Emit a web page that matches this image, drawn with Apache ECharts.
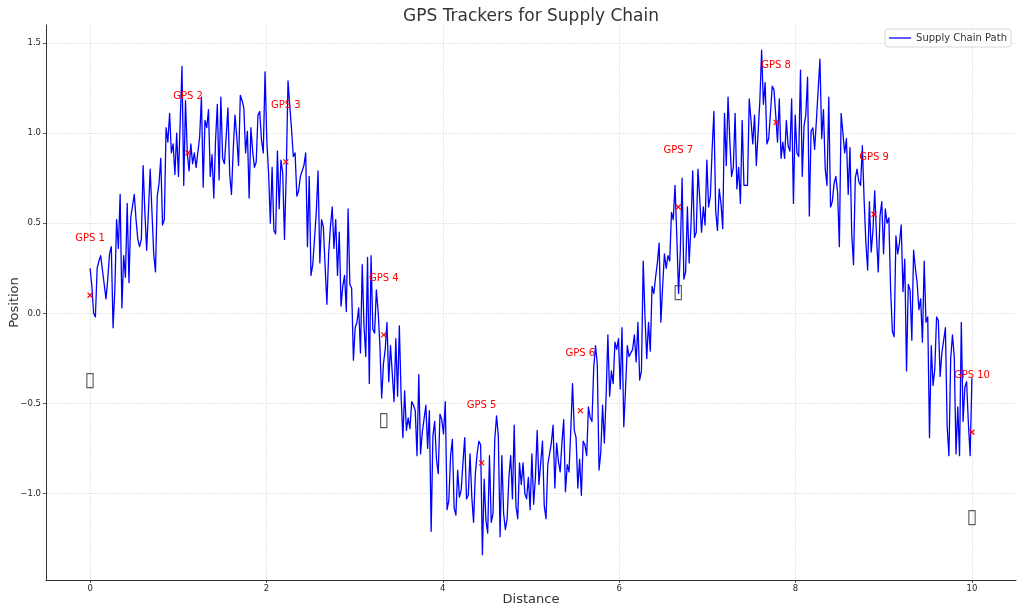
<!DOCTYPE html>
<html>
<head>
<meta charset="utf-8">
<title>GPS Trackers for Supply Chain</title>
<style>
  html, body { margin: 0; padding: 0; background: #fff; }
  #chart { width: 1024px; height: 614px; }
</style>
<script src="https://cdn.jsdelivr.net/npm/echarts@6/dist/echarts.min.js"></script>
</head>
<body>
<div id="chart"></div>
<script>
// path readings, 500 samples evenly spaced from distance 0 to 10
const pathY = [
  0.25,0.15,0.00,-0.02,0.25,0.29,0.32,0.33,0.16,0.08,
  0.19,0.33,0.37,-0.08,0.13,0.52,0.36,0.66,0.03,0.32,
  0.20,0.61,0.17,0.53,0.52,0.66,0.52,0.41,0.37,0.41,
  0.82,0.56,0.35,0.56,0.80,0.79,0.33,0.23,0.65,0.72,
  0.86,0.49,0.52,1.03,0.95,1.11,0.89,0.94,0.77,1.00,
  0.76,0.77,1.37,0.71,1.18,0.89,0.79,0.94,0.83,0.89,
  0.81,0.81,0.98,1.20,0.70,1.07,1.03,1.13,0.76,0.88,
  0.64,0.96,1.16,0.74,1.20,0.86,0.83,0.98,1.14,0.77,
  0.66,0.91,1.10,0.98,0.82,1.21,1.18,1.14,0.89,1.01,
  0.64,1.03,0.90,0.81,0.84,1.10,1.12,0.96,0.89,1.34,
  0.96,0.78,0.50,0.81,0.46,0.44,0.90,0.58,0.85,0.78,
  0.41,0.78,1.29,
  1.15,1.02,0.87,0.89,0.65,0.68,0.76,0.76,0.82,0.89,
  0.37,0.76,0.21,0.27,0.27,0.56,0.79,0.28,0.52,0.48,
  0.26,0.05,0.33,0.48,0.59,0.36,0.52,0.21,0.45,0.04,
  0.15,0.21,0.01,0.58,0.16,0.14,-0.26,-0.08,-0.05,0.03,
  -0.22,0.27,-0.07,-0.24,0.31,-0.39,0.32,-0.09,-0.11,0.13,
  0.01,-0.18,-0.47,-0.28,-0.20,-0.05,-0.38,-0.18,-0.19,-0.49,
  -0.14,-0.46,-0.07,-0.46,-0.69,-0.43,-0.65,-0.58,-0.64,-0.49,
  -0.51,-0.54,-0.79,-0.34,-0.78,-0.66,-0.65,-0.51,-0.75,-0.54,
  -1.21,-0.68,-0.60,-0.81,-0.89,-0.56,-0.59,-0.67,-0.49,-1.09,
  -1.04,-0.79,-0.70,-1.08,-1.12,-0.87,-1.02,
  -0.98,-0.83,-0.69,-1.03,-1.01,-0.78,-1.02,-1.16,-0.89,-0.78,
  -0.71,-0.73,-1.34,-0.92,-1.15,-1.22,-0.79,-1.16,-1.11,-0.70,
  -0.57,-0.68,-1.24,-0.79,-1.11,-1.20,-1.14,-0.91,-0.79,-1.03,
  -0.62,-1.07,-1.14,-0.83,-0.95,-0.83,-1.00,-1.03,-0.91,-1.09,
  -0.78,-1.06,-0.91,-0.65,-0.95,-0.83,-0.71,-1.07,-1.14,-0.84,
  -0.85,-0.72,-0.62,-0.97,-0.72,-0.82,-0.88,-0.72,-0.59,-0.99,
  -0.84,-0.88,-0.65,-0.39,-0.65,-0.69,-0.97,-0.81,-1.01,-0.71,
  -0.73,-0.79,-0.52,-0.58,-0.60,-0.30,-0.18,-0.28,-0.87,-0.77,
  -0.51,-0.72,-0.46,-0.12,-0.46,-0.32,-0.39,-0.16,-0.20,-0.14,
  -0.42,-0.08,-0.63,-0.42,-0.18,-0.24,
  -0.25,-0.20,-0.12,-0.27,-0.05,-0.37,-0.32,0.29,-0.02,-0.25,
  -0.05,-0.21,0.15,0.11,0.20,0.28,0.39,-0.05,0.15,0.33,
  0.25,0.32,0.29,0.56,0.52,0.71,0.43,0.11,0.35,0.75,
  0.19,0.23,0.59,0.28,0.48,0.79,0.42,0.45,0.80,0.63,
  0.45,0.59,0.49,0.85,0.59,0.65,0.91,1.12,0.57,0.46,
  0.69,0.61,0.47,1.11,0.82,1.20,0.96,0.76,0.81,1.11,
  0.69,0.81,0.61,1.07,0.71,0.72,0.71,1.19,1.07,0.94,
  1.10,
  0.82,1.00,1.18,1.46,1.16,1.28,0.94,0.97,1.11,1.26,
  1.24,1.10,0.95,1.19,0.86,0.95,0.86,1.07,0.93,0.90,
  1.19,0.61,1.10,0.89,0.87,1.35,0.76,1.04,1.10,1.31,
  0.54,1.01,1.03,0.91,1.07,1.24,1.41,0.97,1.13,0.80,
  0.71,1.20,0.59,0.62,0.72,0.76,0.67,0.37,1.11,1.10,
  0.89,0.97,0.66,0.92,0.44,0.27,0.75,0.80,0.73,0.71,
  0.93,0.63,0.39,0.24,0.62,
  0.34,0.46,0.68,0.43,0.23,0.54,0.62,0.33,0.58,0.50,
  0.53,0.13,-0.10,-0.13,0.43,0.33,0.39,0.49,0.12,0.30,
  -0.32,0.16,0.13,-0.15,0.35,0.25,0.17,0.02,0.08,-0.16,
  0.29,-0.05,-0.02,-0.69,-0.18,-0.40,-0.31,-0.02,-0.04,-0.35,
  -0.22,-0.15,-0.08,-0.63,-0.79,-0.25,-0.12,-0.24,-0.78,-0.52,
  -0.79,-0.05,-0.60,-0.41,-0.38,-0.61,-0.79,-0.36
]

const trackerNames = ['GPS 1', 'GPS 2', 'GPS 3', 'GPS 4', 'GPS 5', 'GPS 6', 'GPS 7', 'GPS 8', 'GPS 9', 'GPS 10']
const trackerX = [0, 1.11, 2.22, 3.33, 4.44, 5.56, 6.67, 7.78, 8.89, 10]
const trackerY = [0.10, 0.89, 0.84, -0.12, -0.83, -0.54, 0.59, 1.06, 0.55, -0.66]

// the boxes are glyphs the source font could not draw
const flagX = [0, 3.33, 6.67, 10]
const flagY = [-0.37, -0.59, 0.12, -1.13]

const xTicks = [0, 2, 4, 6, 8, 10]
const yTicks = [-1, -0.5, 0, 0.5, 1, 1.5]

const fontName = '"DejaVu Sans", sans-serif'
const textColor = '#333333'
const gridStyle = { color: '#e0e0e0', width: 0.8, type: [2, 1] }

const pathPoints = pathY.map((y, i) => [i * 10 / (pathY.length - 1), y])

const myChart = echarts.init(document.getElementById('chart'), null, { renderer: 'canvas' })
myChart.setOption({
  animation: false,
  backgroundColor: '#ffffff',
  textStyle: { fontFamily: fontName },
  title: {
    text: 'GPS Trackers for Supply Chain',
    left: 526,
    top: 3,
    textAlign: 'center',
    textStyle: { fontFamily: fontName, fontSize: 17, fontWeight: 'normal', color: textColor }
  },
  legend: {
    data: ['Supply Chain Path'],
    icon: 'rect',
    right: 13,
    top: 29,
    padding: [4, 4, 4, 4],
    itemWidth: 22,
    itemHeight: 2,
    borderColor: '#d8d8d8',
    borderWidth: 1,
    borderRadius: 3,
    backgroundColor: 'rgba(255,255,255,0.8)',
    textStyle: { fontFamily: fontName, fontSize: 10, color: textColor }
  },
  grid: { left: 46, right: 8, top: 25, bottom: 34, outerBoundsMode: 'none' },
  xAxis: {
    type: 'value',
    min: -0.5,
    max: 10.5,
    name: 'Distance',
    nameLocation: 'middle',
    nameGap: 13.5,
    nameMoveOverlap: false,
    nameTextStyle: { fontSize: 13, color: textColor, fontFamily: fontName },
    axisLine: { onZero: false, lineStyle: { color: '#333333', width: 1 } },
    axisTick: { customValues: xTicks, length: 3, lineStyle: { color: '#333333', width: 0.8 } },
    axisLabel: {
      customValues: xTicks,
      fontSize: 8.5,
      color: '#262626',
      margin: 4,
      formatter: v => String(v)
    },
    splitLine: { show: true, lineStyle: gridStyle }
  },
  yAxis: {
    type: 'value',
    min: -1.48,
    max: 1.6,
    name: 'Position',
    nameLocation: 'middle',
    nameGap: 25,
    nameRotate: 90,
    nameMoveOverlap: false,
    nameTextStyle: { fontSize: 13, color: textColor, fontFamily: fontName },
    axisLine: { show: true, onZero: false, lineStyle: { color: '#333333', width: 1 } },
    axisTick: { show: true, customValues: yTicks, length: 3, lineStyle: { color: '#333333', width: 0.8 } },
    axisLabel: {
      customValues: yTicks,
      fontSize: 8.5,
      color: '#262626',
      margin: 5,
      formatter: v => v.toFixed(1).replace('-', '\u2212')
    },
    splitLine: { show: true, lineStyle: gridStyle }
  },
  series: [
    {
      name: 'Supply Chain Path',
      type: 'line',
      data: pathPoints,
      showSymbol: false,
      symbol: 'none',
      lineStyle: { color: '#0000ff', width: 1.3, join: 'round' },
      itemStyle: { color: '#5a5aff' },
      z: 2
    },
    {
      name: 'GPS Trackers',
      type: 'scatter',
      data: trackerX.map((x, i) => ({ value: [x, trackerY[i]], name: trackerNames[i] })),
      symbol: 'path://M0,0L10,10M10,0L0,10',
      symbolSize: 5,
      itemStyle: { color: 'none', borderColor: '#ff0000', borderWidth: 1.2, opacity: 1 },
      label: {
        show: true,
        position: 'inside',
        offset: [0, -57],
        formatter: p => p.name,
        fontFamily: fontName,
        fontSize: 10,
        color: '#ff0000'
      },
      z: 3
    },
    {
      name: 'Missing Glyphs',
      type: 'scatter',
      data: flagX.map((x, i) => [x, flagY[i]]),
      symbolSize: 0,
      label: {
        show: true,
        position: 'inside',
        offset: [0, 1],
        formatter: '\u25AF',
        fontFamily: '"DejaVu Sans"',
        fontSize: 20,
        color: '#333333'
      },
      z: 3
    }
  ]
})
</script>
</body>
</html>
